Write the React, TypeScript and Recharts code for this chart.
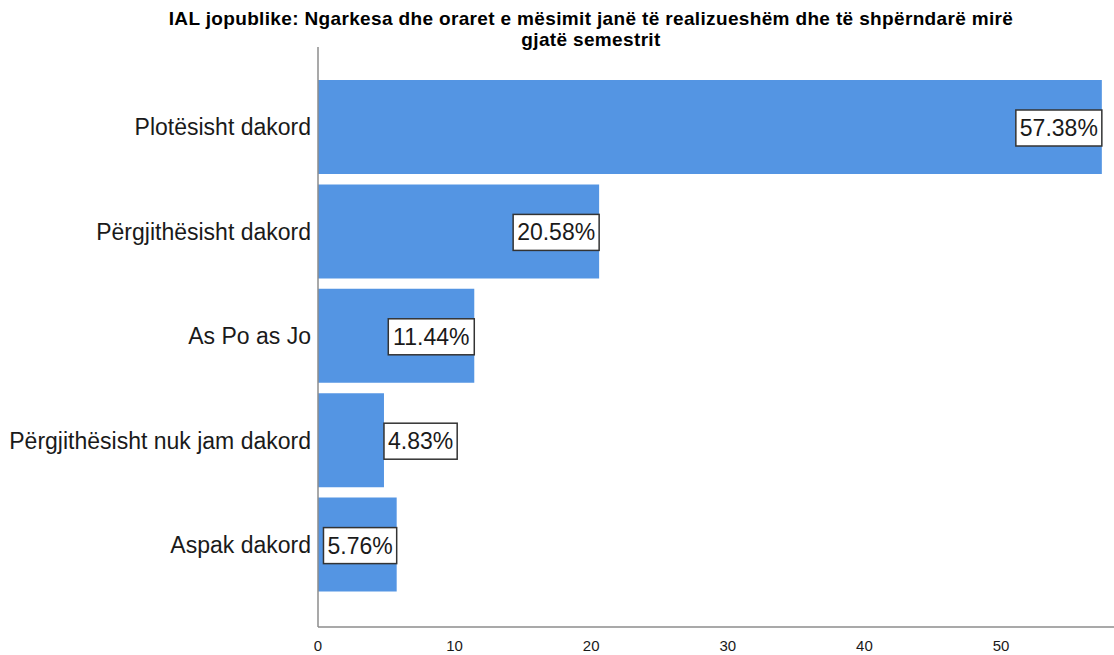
import { BarChart, Bar, XAxis, YAxis, LabelList } from 'recharts';

const categories = [
  'Plotësisht dakord',
  'Përgjithësisht dakord',
  'As Po as Jo',
  'Përgjithësisht nuk jam dakord',
  'Aspak dakord',
];
const percentages = [57.38, 20.58, 11.44, 4.83, 5.76];
const xTicks = [0, 10, 20, 30, 40, 50];
const titleLines = [
  'IAL jopublike: Ngarkesa dhe oraret e mësimit janë të realizueshëm dhe të shpërndarë mirë',
  'gjatë semestrit',
];

const data = categories.map((name, i) => ({ name, value: percentages[i] }));

const FONT = '"Liberation Sans", Arial, Helvetica, sans-serif';
const LABEL_FONT = 23;
const BAR_COLOR = '#5495e3';
const AXIS_COLOR = '#8c8c8c';

// rough Arial advance widths, enough to size the label boxes
const charW = (ch: string) => (ch === '.' ? 0.278 : ch === '%' ? 0.889 : 0.556);

const PercentLabel = (props: any) => {
  const { x, y, width, height, value } = props;
  const text = `${Number(value).toFixed(2)}%`;
  const textW = [...text].reduce((acc, c) => acc + charW(c), 0) * LABEL_FONT;
  const boxW = textW + 8;
  const boxH = 36;
  const end = Number(x) + Number(width);
  // inside the bar end when it fits, otherwise just past it
  const left = boxW <= Number(width) ? end - boxW : end;
  const cy = Number(y) + Number(height) / 2 + 1;
  return (
    <g>
      <rect x={left} y={cy - boxH / 2} width={boxW} height={boxH} fill="#fff" stroke="#333" strokeWidth={1.5} />
      <text
        x={left + boxW / 2}
        y={cy + 8}
        textAnchor="middle"
        fontFamily={FONT}
        fontSize={LABEL_FONT}
        fill="#1a1a1a"
      >
        {text}
      </text>
    </g>
  );
};

export default function App() {
  return (
    <div style={{ position: 'absolute', left: 0, top: 0, width: 1114, height: 655, background: '#fff' }}>
      <svg width={1114} height={60} style={{ position: 'absolute', left: 0, top: 0 }}>
        {titleLines.map((line, i) => (
          <text
            key={i}
            x={591}
            y={25 + i * 21}
            textAnchor="middle"
            fontFamily={FONT}
            fontWeight="bold"
            fontSize={19}
            letterSpacing={0.35}
            fill="#000"
          >
            {line}
          </text>
        ))}
      </svg>
      <BarChart
        width={1114}
        height={655}
        data={data}
        layout="vertical"
        margin={{ top: 47, right: 0, bottom: 0, left: 0 }}
        barCategoryGap={5}
      >
        <XAxis
          type="number"
          domain={[0, 58.27]}
          ticks={xTicks}
          height={28}
          axisLine={{ stroke: AXIS_COLOR, strokeWidth: 1.5 }}
          tickLine={false}
          tickSize={0}
          tickMargin={13}
          tick={{ fontFamily: FONT, fontSize: 15, fill: '#1a1a1a' }}
          allowDataOverflow
        />
        <YAxis
          type="category"
          dataKey="name"
          width={318}
          padding={{ top: 28, bottom: 30 }}
          axisLine={{ stroke: AXIS_COLOR, strokeWidth: 1.5 }}
          tickLine={false}
          tickSize={0}
          tickMargin={7}
          tick={{ fontFamily: FONT, fontSize: 23, fill: '#1a1a1a' }}
        />
        <Bar dataKey="value" fill={BAR_COLOR} barSize={94} isAnimationActive={false}>
          <LabelList dataKey="value" content={PercentLabel} />
        </Bar>
      </BarChart>
    </div>
  );
}
